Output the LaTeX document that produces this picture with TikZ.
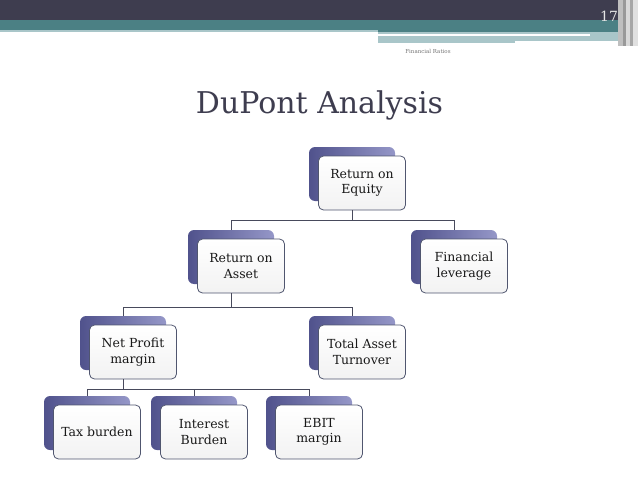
\documentclass[tikz,border=0pt]{standalone}
\usepackage{fontspec}
\setmainfont{DejaVu Serif}
\usetikzlibrary{positioning}

\definecolor{slatedark}{HTML}{3E3D4F}
\definecolor{tealband}{HTML}{4B8084}
\definecolor{tealpale}{HTML}{A9C6C9}
\definecolor{boxleft}{HTML}{50528C}
\definecolor{boxright}{HTML}{9597C8}
\definecolor{boxedge}{HTML}{50566F}
\definecolor{connline}{HTML}{484A5C}

\begin{document}
\begin{tikzpicture}[
    x=1pt, y=-1pt,
    backbox/.style={
        rectangle, rounded corners=6pt, minimum width=86pt, minimum height=54pt,
        left color=boxleft, right color=boxright, draw=none,
        inner sep=0pt,
    },
    frontbox/.style={
        rectangle, rounded corners=5pt, minimum width=87pt, minimum height=54pt,
        top color=white, bottom color=blue!2!black!5, draw=boxedge, line width=0.8pt,
        align=center, font=\fontsize{12.5}{15.5}\selectfont, text=black!90,
        inner sep=2pt,
    },
    conn/.style={draw=connline, line width=0.8pt},
]
\useasboundingbox (0,0) rectangle (638,479);

% --- Header bands ---
\fill[slatedark] (0,0) rectangle (638,20);
\fill[tealband] (0,20) rectangle (618,30);
\fill[tealpale] (0,30) rectangle (378,32);
\fill[tealband] (378,30) rectangle (618,32);
\fill[tealpale] (378,32) rectangle (618,43);
\fill[white] (378,34) rectangle (590,36);
\fill[white] (515,41) rectangle (618,43);
\fill[black!25] (618,0) rectangle (623,46);
\fill[black!40] (623,0) rectangle (626,46);
\fill[black!15] (626,0) rectangle (630,46);
\fill[black!35] (630,0) rectangle (633,46);
\fill[black!12] (633,0) rectangle (638,46);
\node[text=black!10, font=\fontsize{14}{16}\selectfont, anchor=base] (pagenum) at (609,21) {17};
\node[text=black!55, font=\fontsize{5.5}{6}\selectfont] (topic) at (428,51) {Financial Ratios};

% --- Title ---
\node[text=slatedark, font=\fontsize{30}{36}\selectfont, anchor=base] (title) at (319.5,113) {DuPont Analysis};

% --- Level 0 ---
\node[backbox] (roeb) at (352,174) {};
\node[frontbox] (roe) at ([shift={(10pt,-9pt)}]roeb.center) {Return on\\Equity};

% --- Level 1 ---
\node[backbox] (roab) at (231,257) {};
\node[frontbox] (roa) at ([shift={(10pt,-9pt)}]roab.center) {Return on\\Asset};
\node[backbox] (flevb) at (454,257) {};
\node[frontbox] (flev) at ([shift={(10pt,-9pt)}]flevb.center) {Financial\\leverage};

% --- Level 2 ---
\node[backbox] (npmb) at (123,343) {};
\node[frontbox] (npm) at ([shift={(10pt,-9pt)}]npmb.center) {Net Profit\\margin};
\node[backbox] (tatb) at (352,343) {};
\node[frontbox] (tat) at ([shift={(10pt,-9pt)}]tatb.center) {Total Asset\\Turnover};

% --- Level 3 ---
\node[backbox] (taxb) at (87,423) {};
\node[frontbox] (tax) at ([shift={(10pt,-9pt)}]taxb.center) {Tax burden};
\node[backbox] (intb) at (194,423) {};
\node[frontbox] (int) at ([shift={(10pt,-9pt)}]intb.center) {Interest\\Burden};
\node[backbox] (ebitb) at (309,423) {};
\node[frontbox] (ebit) at ([shift={(10pt,-9pt)}]ebitb.center) {EBIT\\margin};

% --- Connectors ---
\draw[conn] (roeb |- roe.south) -- ++(0,10) -| (roab.north);
\draw[conn] (roeb |- roe.south) -- ++(0,10) -| (flevb.north);
\draw[conn] (roab |- roa.south) -- ++(0,14) -| (npmb.north);
\draw[conn] (roab |- roa.south) -- ++(0,14) -| (tatb.north);
\draw[conn] (npmb |- npm.south) -- ++(0,10) -| (taxb.north);
\draw[conn] (npmb |- npm.south) -- ++(0,10) -| (intb.north);
\draw[conn] (npmb |- npm.south) -- ++(0,10) -| (ebitb.north);

\end{tikzpicture}
\end{document}
